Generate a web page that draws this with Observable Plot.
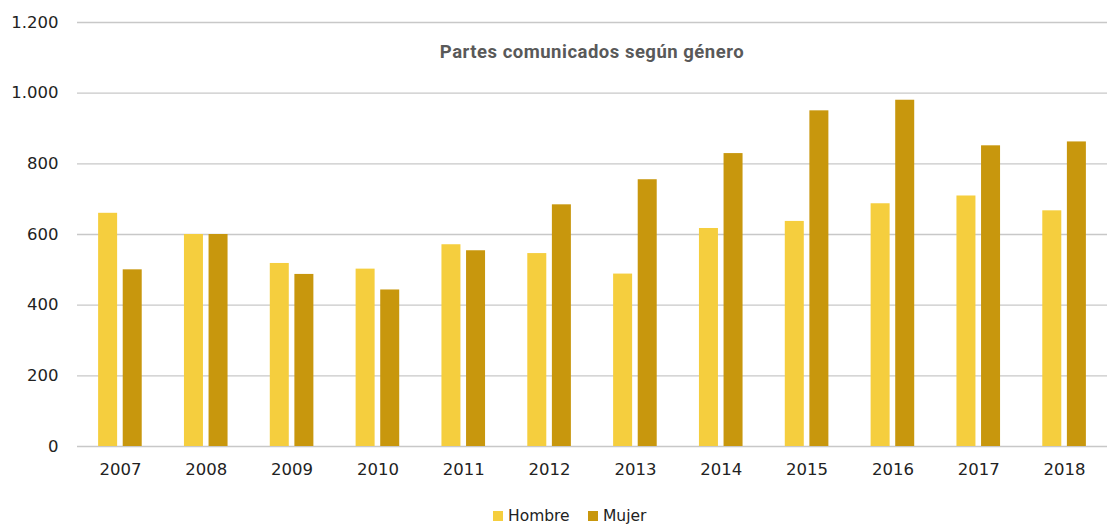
<!DOCTYPE html>
<html>
<head>
<meta charset="utf-8">
<script src="https://cdn.jsdelivr.net/npm/d3@7"></script>
<script src="https://cdn.jsdelivr.net/npm/@observablehq/plot@0.6"></script>
<style>
  html, body { margin: 0; padding: 0; background: #fff; }
  #wrap { position: relative; width: 1107px; height: 525px; overflow: hidden; }
  #chart svg text { font-family: "DejaVu Sans", sans-serif; font-size: 16.5px; fill: #222; }
  #title { position: absolute; left: 77px; width: 1030px; top: 41px; text-align: center;
           font: 700 18.5px Roboto, sans-serif; letter-spacing: 0.5px; line-height: 22px; color: #595959; }
  #legend { position: absolute; top: 490px; left: 0; width: 1107px; height: 35px;
            font-family: "DejaVu Sans", sans-serif; font-size: 15.5px; color: #222; }
  .item { position: absolute; top: 17px; line-height: 18px; display: flex; align-items: center; }
  .sw { width: 10px; height: 10px; margin-right: 5px; }
</style>
</head>
<body>
<div id="wrap">
  <div id="chart"></div>
  <div id="title"></div>
  <div id="legend"></div>
</div>
<script>
const years = ["2007","2008","2009","2010","2011","2012","2013","2014","2015","2016","2017","2018"];
const hombre = [660, 600, 518, 502, 571, 546, 488, 617, 637, 687, 709, 667];
const mujer  = [500, 600, 487, 443, 554, 684, 755, 829, 950, 980, 851, 862];
const series = ["Hombre", "Mujer"];
const colors = ["#F5CE3E", "#C8970D"];
const yTicks = [0, 200, 400, 600, 800, 1000, 1200];
const titleText = "Partes comunicados según género";

const hombreData = years.map((yr, i) => ({year: yr, genero: series[0], value: hombre[i]}));
const mujerData  = years.map((yr, i) => ({year: yr, genero: series[1], value: mujer[i]}));

const fmt = d => d3.format(",")(d).replace(/,/g, ".");

const W = 1107, ML = 77, MR = 0;
const step = (W - ML - MR) / years.length;   // band width per year
const barW = 19, gap = 5.6;
const outer = (step - 2 * barW - gap) / 2;

const chart = Plot.plot({
  width: W,
  height: 490,
  marginLeft: ML,
  marginRight: MR,
  marginTop: 22,
  marginBottom: 44,
  style: {fontFamily: "DejaVu Sans", fontSize: "16.5px", color: "#222", background: "#fff"},
  x: {domain: years, padding: 0, round: false, label: null, tickSize: 0, tickPadding: 17},
  y: {domain: [0, 1200], ticks: yTicks, tickFormat: fmt, tickSize: 0, tickPadding: 19, label: null},
  color: {domain: series, range: colors},
  marks: [
    Plot.ruleY(yTicks, {stroke: "#c8c8c8", strokeWidth: 1.3}),
    Plot.barY(hombreData, {x: "year", y: "value", fill: "genero",
      insetLeft: outer, insetRight: step - outer - barW}),
    Plot.barY(mujerData, {x: "year", y: "value", fill: "genero",
      insetLeft: outer + barW + gap, insetRight: outer})
  ]
});
document.getElementById("chart").appendChild(chart);
document.getElementById("title").textContent = titleText;

const legend = document.getElementById("legend");
const lefts = [493, 588];
series.forEach((s, i) => {
  const it = document.createElement("div");
  it.className = "item";
  it.style.left = lefts[i] + "px";
  const sw = document.createElement("span");
  sw.className = "sw";
  sw.style.background = colors[i];
  const tx = document.createElement("span");
  tx.textContent = s;
  it.appendChild(sw);
  it.appendChild(tx);
  legend.appendChild(it);
});
</script>
</body>
</html>
